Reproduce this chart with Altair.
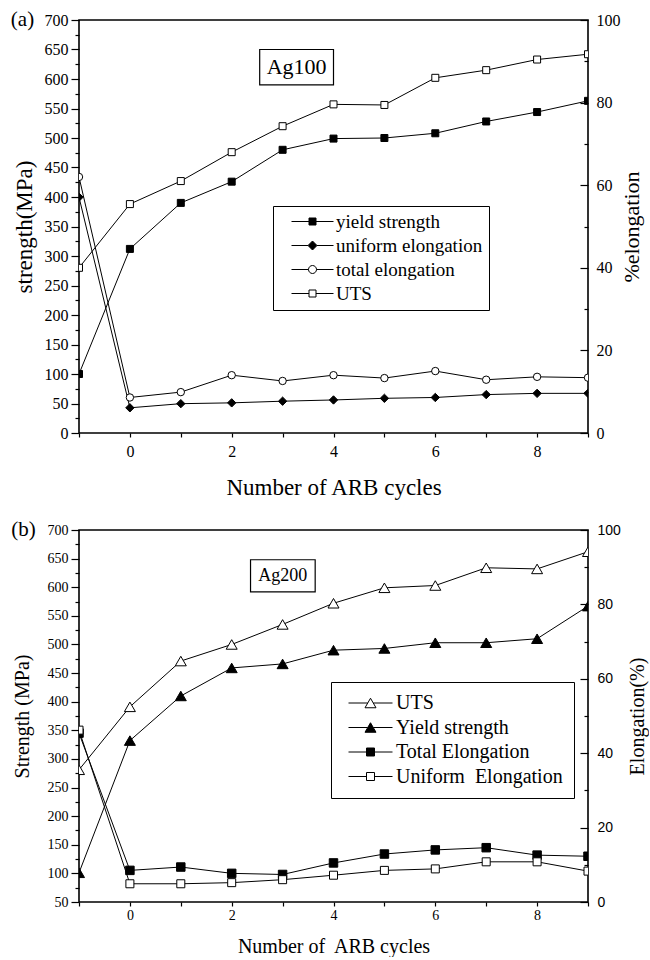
import altair as alt
import pandas as pd

# ---------------- data ----------------
cycles = [-1, 0, 1, 2, 3, 4, 5, 6, 7, 8, 9]

# (a) Ag100 : strength in MPa, elongation in %
ag100_yield_strength = [100, 312, 390, 426, 480, 499, 500, 508, 528, 544, 563]
ag100_uts = [280, 388, 427, 476, 520, 557, 556, 602, 615, 633, 642]
ag100_uniform_elongation = [57.1, 6.1, 7.1, 7.3, 7.7, 8.0, 8.4, 8.6, 9.3, 9.6, 9.6]
ag100_total_elongation = [62.0, 8.6, 9.9, 14.0, 12.6, 14.0, 13.3, 15.0, 12.9, 13.6, 13.4]

# (b) Ag200 : strength in MPa, elongation in %
ag200_uts = [281, 391, 471, 500, 535, 572, 599, 603, 634, 632, 662]
ag200_yield_strength = [101, 332, 410, 459, 466, 490, 493, 503, 503, 510, 567]
ag200_total_elongation = [45.4, 8.5, 9.4, 7.7, 7.4, 10.5, 12.9, 14.0, 14.6, 12.6, 12.3]
ag200_uniform_elongation = [46.2, 4.9, 4.9, 5.2, 6.0, 7.2, 8.5, 8.9, 10.8, 10.8, 8.3]

ag100_names = ["yield strength", "uniform elongation", "total elongation", "UTS"]
ag200_names = ["UTS", "Yield strength", "Total Elongation", "Uniform\u00a0 Elongation"]

SERIF = "Liberation Serif"
SANS = "Liberation Sans"
W = 509


def frame(names, arrays):
    rows = []
    for n, arr in zip(names, arrays):
        for c, v in zip(cycles, arr):
            rows.append({"cycle": c, "value": v, "series": n})
    return pd.DataFrame(rows)


def p_square(h):
    return f"M{-h},{-h}H{h}V{h}H{-h}Z"


def p_diamond(r):
    return f"M0,{-r}L{r},0L0,{r}L{-r},0Z"


def p_circle(r):
    return f"M{r},0A{r},{r},0,1,1,{-r},0A{r},{r},0,1,1,{r},0Z"


def p_triangle(r):
    h = round(0.866 * r, 2)
    return f"M0,{-h}L{r},{h}L{-r},{h}Z"


def with_lines(marker, L, gap):
    return f"M{-L},0H{-gap}M{gap},0H{L}" + marker


def panel(cfg):
    H = cfg["H"]
    xs = alt.Scale(domain=[-1, 9], nice=False, zero=False)
    xaxis = alt.Axis(
        values=cycles,
        labelExpr="datum.value % 2 == 0 ? datum.label : ''",
        tickSize=4, tickWidth=1.2, tickColor="black",
        domain=False, grid=False,
        labelFont=SERIF, labelFontSize=cfg["xtick_fs"], labelColor="black",
        labelPadding=cfg["xlabel_pad"], labelOverlap=False, labelFlush=False,
        title=cfg["xtitle"], titleFont=SERIF, titleFontSize=cfg["xtitle_fs"],
        titleFontWeight="normal", titleColor="black", titlePadding=cfg["xtitle_pad"],
    )
    X = alt.X("cycle:Q", scale=xs, axis=xaxis)

    y0 = cfg["ymin"]
    ls = alt.Scale(domain=[y0, 700], nice=False, zero=False)
    lmaj = alt.Axis(
        orient="left", values=list(range(y0, 701, 50)),
        tickSize=8, tickWidth=1.2, tickColor="black", domain=False, grid=False,
        labelFont=SERIF, labelFontSize=cfg["ytick_fs"], labelColor="black", labelPadding=3,
        title=cfg["ltitle"], titleFont=SERIF, titleFontSize=cfg["ytitle_fs"],
        titleFontWeight="normal", titleColor="black", titlePadding=cfg["ltitle_pad"],
    )
    lmin = alt.Axis(
        orient="left", values=list(range(y0 + 25, 700, 50)),
        tickSize=4, tickWidth=1.2, tickColor="black", domain=False, grid=False,
        labels=False, title=None,
    )

    def YL(axis):
        return alt.Y("value:Q", scale=ls, axis=axis)

    rs = alt.Scale(domain=[0, 100], nice=False, zero=False)
    rlab = alt.Axis(
        orient="right", values=list(range(0, 101, 20)), ticks=False, tickSize=0,
        domain=False, grid=False,
        labelFont=cfg["rfont"], labelFontSize=cfg["rtick_fs"], labelColor="black",
        labelPadding=cfg["rlabel_pad"],
        title=cfg["rtitle"], titleAngle=270, titleBaseline="top", titleFont=SERIF,
        titleFontSize=cfg["rtitle_fs"], titleFontWeight="normal", titleColor="black",
        titlePadding=cfg["rtitle_pad"],
    )
    rmaj = alt.Axis(
        orient="left", offset=-W, values=list(range(0, 101, 20)),
        tickSize=8, tickWidth=1.2, tickColor="black", labels=False,
        domain=False, grid=False, title=None,
    )
    rmin = alt.Axis(
        orient="left", offset=-W, values=list(range(10, 100, 20)),
        tickSize=4, tickWidth=1.2, tickColor="black", labels=False,
        domain=False, grid=False, title=None,
    )

    def YR(axis):
        return alt.Y("value:Q", scale=rs, axis=axis)

    dl = frame(cfg["left_names"], cfg["left_arrays"])
    dr = frame(cfg["right_names"], cfg["right_arrays"])
    dall = pd.concat([dl, dr], ignore_index=True)
    st = cfg["styles"]

    # ---- strength (left axis) ----
    lines_l = alt.Chart(dl).mark_line(color="black", strokeWidth=1, clip=True).encode(
        x=X, y=YL(lmaj), detail="series:N")
    pts_l = []
    for i, name in enumerate(cfg["left_names"]):
        s = st[name]
        pts_l.append(
            alt.Chart(dl).transform_filter(alt.datum.series == name)
            .mark_point(shape=s["shape"], size=s["size"], filled=True, fill=s["fill"],
                        stroke="black", strokeWidth=1, opacity=1, clip=True)
            .encode(x=X, y=YL(lmin if i == 0 else None))
        )

    order = cfg["order"]
    leg = alt.Legend(
        orient="none", legendX=cfg["legX"], legendY=cfg["legY"], title=None,
        labelFont=SERIF, labelFontSize=cfg["leg_fs"], labelColor="black", labelLimit=0,
        symbolSize=4, symbolStrokeWidth=1, symbolOpacity=1,
        strokeColor="black", fillColor="white", padding=cfg["leg_pad"],
        rowPadding=cfg["leg_row"], symbolOffset=cfg["sym_off"], labelOffset=cfg["lab_off"],
        cornerRadius=0,
    )
    legend_layer = alt.Chart(dall).mark_point(opacity=0, clip=True).encode(
        x=X, y=YL(None),
        shape=alt.Shape("series:N", scale=alt.Scale(domain=order, range=[st[n]["lpath"] for n in order]), legend=leg),
        fill=alt.Fill("series:N", scale=alt.Scale(domain=order, range=[st[n]["fill"] for n in order]), legend=leg),
        stroke=alt.Stroke("series:N", scale=alt.Scale(domain=order, range=["black"] * len(order)), legend=leg),
    )

    bx = cfg["box"]
    box_df = pd.DataFrame({"cycle": [bx[0]], "cycle2": [bx[1]], "value": [bx[2]], "value2": [bx[3]]})
    rect = alt.Chart(box_df).mark_rect(fill="white", stroke="black", strokeWidth=1.2).encode(
        x=X, x2="cycle2", y=YL(None), y2="value2")
    tag_df = pd.DataFrame({"cycle": [(bx[0] + bx[1]) / 2], "value": [(bx[2] + bx[3]) / 2], "text": [cfg["tag"]]})
    tag = alt.Chart(tag_df).mark_text(font=SERIF, fontSize=cfg["tag_fs"], color="black",
                                      align="center", baseline="middle").encode(
        x=X, y=YL(None), text="text:N")
    letter_df = pd.DataFrame({"cycle": [-1], "value": [700], "text": [cfg["letter"]]})
    letter = alt.Chart(letter_df).mark_text(font=SERIF, fontSize=21, color="black", dx=cfg["letter_dx"],
                                            align="center", baseline="middle").encode(
        x=X, y=YL(None), text="text:N")

    left_group = alt.layer(lines_l, *pts_l, legend_layer, rect, tag, letter).resolve_axis(y="independent")

    # ---- elongation (right axis) ----
    lines_r = alt.Chart(dr).mark_line(color="black", strokeWidth=1, clip=True).encode(
        x=X, y=YR(rlab), detail="series:N")
    pts_r = []
    for i, name in enumerate(cfg["right_names"]):
        s = st[name]
        pts_r.append(
            alt.Chart(dr).transform_filter(alt.datum.series == name)
            .mark_point(shape=s["shape"], size=s["size"], filled=True, fill=s["fill"],
                        stroke="black", strokeWidth=1, opacity=1, clip=True)
            .encode(x=X, y=YR(rmaj if i == 0 else rmin))
        )
    right_group = alt.layer(lines_r, *pts_r).resolve_axis(y="independent")

    return alt.layer(left_group, right_group).resolve_scale(y="independent").properties(width=W, height=H)


top_styles = {
    "yield strength": {"shape": "square", "size": 49, "fill": "black",
                       "lpath": with_lines(p_square(3.5), 21, 3.5)},
    "uniform elongation": {"shape": "diamond", "size": 70, "fill": "black",
                           "lpath": with_lines(p_diamond(4.5), 21, 4.5)},
    "total elongation": {"shape": "circle", "size": 55, "fill": "white",
                         "lpath": with_lines(p_circle(4), 21, 4)},
    "UTS": {"shape": "square", "size": 49, "fill": "white",
            "lpath": with_lines(p_square(3.5), 21, 3.5)},
}

bottom_styles = {
    "UTS": {"shape": "triangle-up", "size": 121, "fill": "white",
            "lpath": with_lines(p_triangle(5.5), 22, 2.8)},
    "Yield strength": {"shape": "triangle-up", "size": 121, "fill": "black",
                       "lpath": with_lines(p_triangle(5.5), 22, 2.8)},
    "Total Elongation": {"shape": "square", "size": 72, "fill": "black",
                         "lpath": with_lines(p_square(4), 22, 4)},
    "Uniform\u00a0 Elongation": {"shape": "square", "size": 64, "fill": "white",
                                 "lpath": with_lines(p_square(4), 22, 4)},
}

top = panel({
    "H": 413, "ymin": 0,
    "xtitle": "Number of ARB cycles", "xtick_fs": 16, "xtitle_fs": 23, "xlabel_pad": 6, "xtitle_pad": 17,
    "ytick_fs": 16, "ytitle_fs": 23, "ltitle": "strength(MPa)", "ltitle_pad": 8,
    "rtitle": "%elongation", "rfont": SERIF, "rtick_fs": 16, "rlabel_pad": 8, "rtitle_pad": 1,
    "rtitle_fs": 22,
    "left_names": ["yield strength", "UTS"], "left_arrays": [ag100_yield_strength, ag100_uts],
    "right_names": ["uniform elongation", "total elongation"],
    "right_arrays": [ag100_uniform_elongation, ag100_total_elongation],
    "styles": top_styles, "order": ag100_names,
    "legX": 194, "legY": 186, "leg_fs": 19, "leg_pad": 6, "leg_row": 4, "sym_off": 24, "lab_off": 14,
    "box": [2.55, 4.0, 590, 650], "tag": "Ag100", "tag_fs": 22,
    "letter": "(a)", "letter_dx": -56.5,
})

bottom = panel({
    "H": 372, "ymin": 50,
    "xtitle": "Number of\u00a0 ARB cycles", "xtick_fs": 14, "xtitle_fs": 20, "xlabel_pad": 2, "xtitle_pad": 14,
    "ytick_fs": 14, "ytitle_fs": 20, "ltitle": "Strength (MPa)", "ltitle_pad": 15,
    "rtitle": "Elongation(%)", "rfont": SANS, "rtick_fs": 14, "rlabel_pad": 9, "rtitle_pad": 7,
    "rtitle_fs": 20,
    "left_names": ["UTS", "Yield strength"], "left_arrays": [ag200_uts, ag200_yield_strength],
    "right_names": ["Total Elongation", "Uniform\u00a0 Elongation"],
    "right_arrays": [ag200_total_elongation, ag200_uniform_elongation],
    "styles": bottom_styles, "order": ag200_names,
    "legX": 252, "legY": 152, "leg_fs": 20, "leg_pad": 11, "leg_row": 4.5, "sym_off": 18.5, "lab_off": 15.5,
    "box": [2.37, 3.64, 592, 648], "tag": "Ag200", "tag_fs": 18,
    "letter": "(b)", "letter_dx": -55.5,
})

chart = (
    alt.vconcat(top, bottom, spacing=18)
    .resolve_scale(shape="independent", fill="independent", stroke="independent")
    .resolve_legend(shape="independent", fill="independent", stroke="independent")
    .properties(padding={"left": 10, "top": 8, "right": 0, "bottom": 0}, background="white")
    .configure_view(stroke="black", strokeWidth=1.6)
)

chart.save("out.html", embed_options={"renderer": "svg", "actions": False})
